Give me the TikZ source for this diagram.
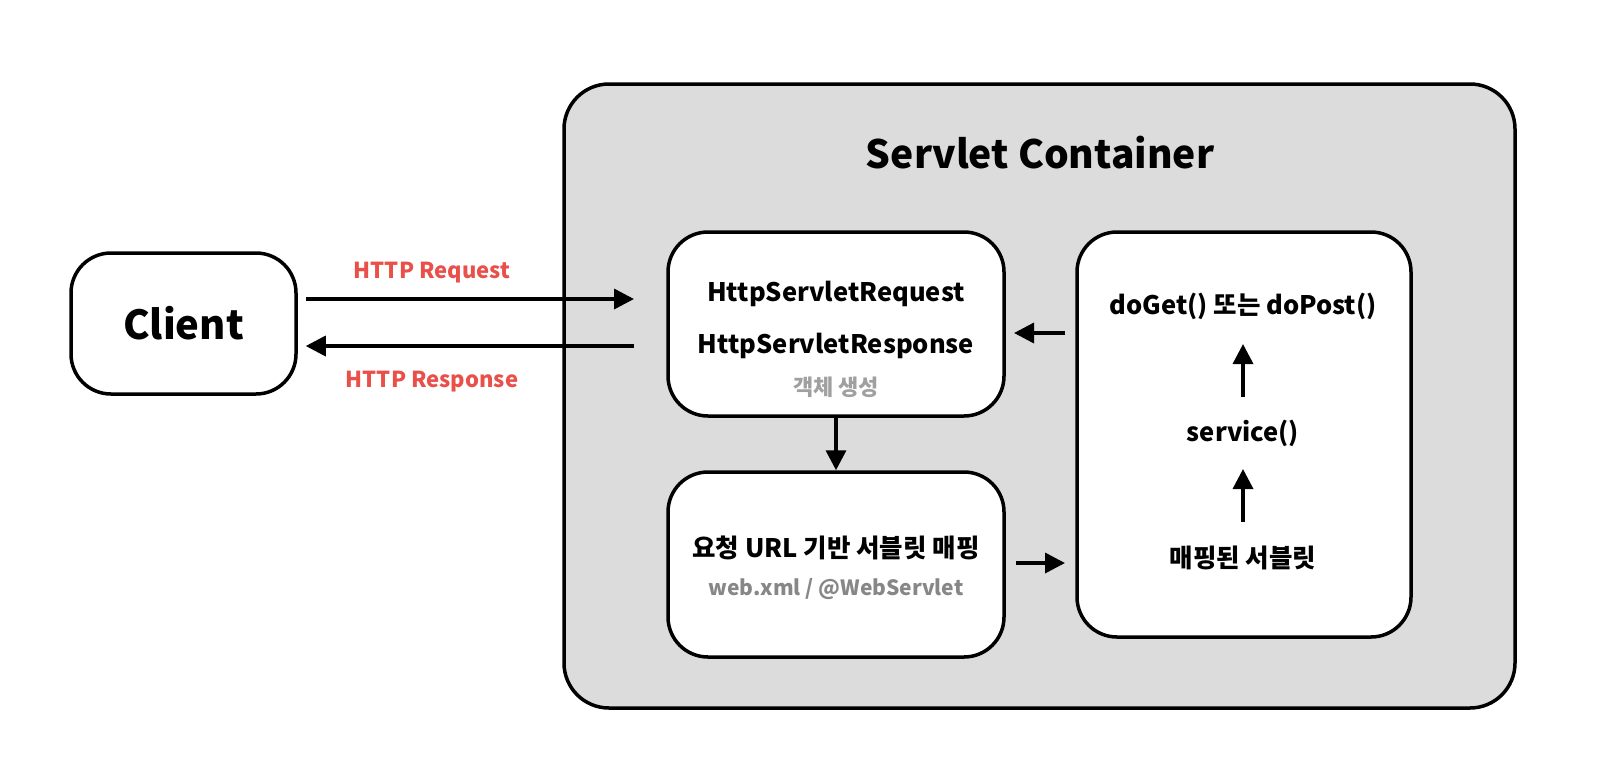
\documentclass[tikz,border=0pt]{standalone}
\usepackage{fontspec}
\setmainfont{Noto Sans CJK KR}
\usetikzlibrary{arrows.meta}
\definecolor{boxgray}{RGB}{220,220,220}
\definecolor{httpred}{RGB}{234,80,74}
\definecolor{subgray}{RGB}{135,135,135}
\definecolor{lightgray}{RGB}{160,160,160}
\begin{document}
\begin{tikzpicture}[x=1pt, y=-1pt,
  box/.style = {draw, line width=3.5pt, rounded corners=40pt, fill=white, minimum width=#1},
  flow/.style = {line width=3.5pt, -{Triangle[length=20pt, width=20pt]}},
  label/.style = {font=\fontsize{25.5}{30}\selectfont\bfseries},
  httplabel/.style = {font=\fontsize{22}{26}\selectfont\bfseries, text=httpred},
  sublabel/.style = {font=\fontsize{21}{25}\selectfont\bfseries, text=subgray}]
\useasboundingbox (0,0) rectangle (1598,772);

%container
\node[box=951pt, fill=boxgray, minimum height=624pt, rounded corners=45pt] (container) at (1039.5,396) {};
\node[font=\fontsize{39}{46}\selectfont\bfseries] (title) at (1040,153) {Servlet Container};

%boxes
\node[box=225pt, minimum height=141pt] (client) at (183.5,323.5) {};
\node[font=\fontsize{40}{48}\selectfont\bfseries] at (client) {Client};
\node[box=336pt, minimum height=184pt] (objects) at (836,324) {};
\node[box=336pt, minimum height=185pt] (mapping) at (836,564.5) {};
\node[box=334pt, minimum height=405pt] (servlet) at (1244,434.5) {};

%texts
\node[label] (req) at (836,294) {HttpServletRequest};
\node[label] (res) at (836,346) {HttpServletResponse};
\node[sublabel, font=\fontsize{22}{26}\selectfont\bfseries, text=lightgray] (create) at (836,387) {객체 생성};
\node[label] (url) at (836,548) {요청 URL 기반 서블릿 매핑};
\node[sublabel] (webxml) at (836,589) {web.xml / @WebServlet};
\node[label] (doget) at (1243,306) {doGet() 또는 doPost()};
\node[label] (service) at (1243,433) {service()};
\node[label] (mapped) at (1243,558) {매핑된 서블릿};
\node[httplabel] (reqlabel) at (432,273) {HTTP Request};
\node[httplabel] (reslabel) at (432,382) {HTTP Response};

%arrows
\draw[flow] (client.east |- 0,299) ++(8,0) -- (634,299);
\draw[flow, shorten >=8pt] (634,346) -- (client.east |- 0,346);
\draw[flow] (objects.south) -- (mapping.north);
\draw[flow] (mapping.east |- 0,563) ++(10,0) -- (1065,563);
\draw[flow] (servlet.west |- 0,333) ++(-10,0) -- (1014,333);
\draw[flow] (mapped.north |- 0,522) -- (service.north |- 0,469);
\draw[flow] (service.north |- 0,397) -- (doget.south |- 0,344);
\end{tikzpicture}
\end{document}
